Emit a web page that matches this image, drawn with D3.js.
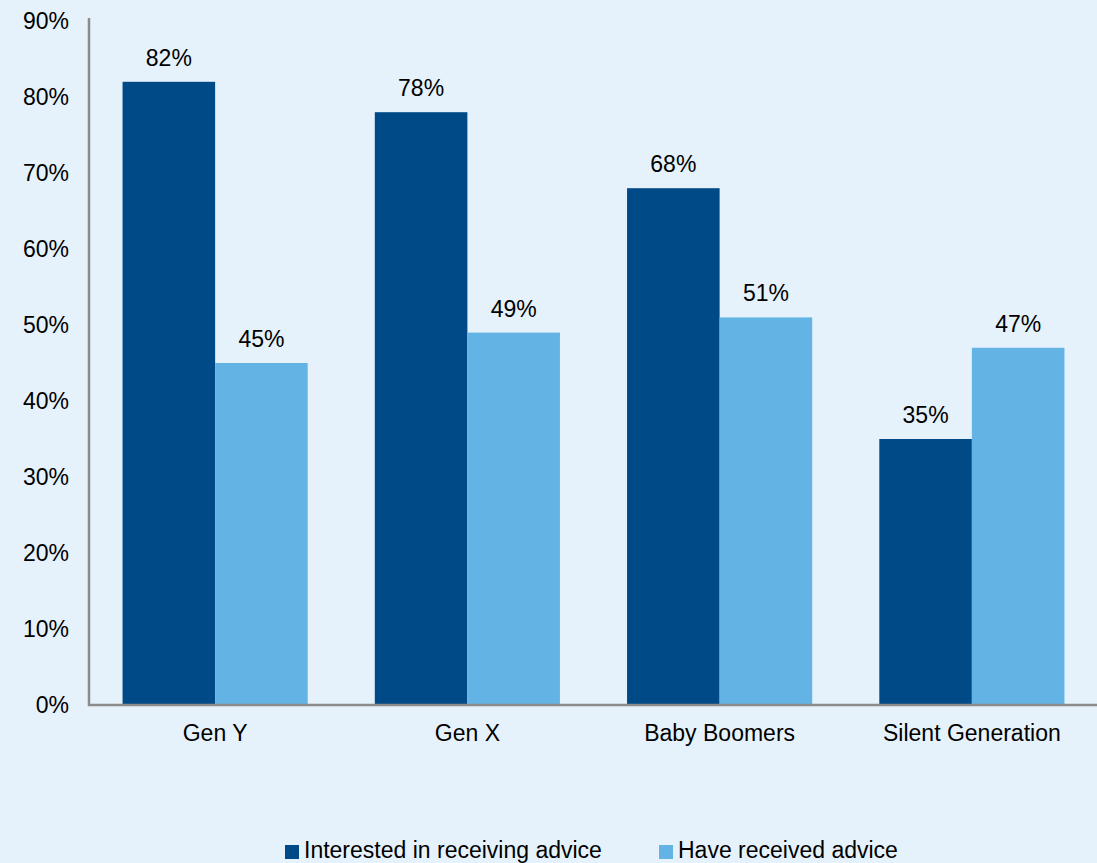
<!DOCTYPE html>
<html>
<head>
<meta charset="utf-8">
<script src="https://cdn.jsdelivr.net/npm/d3@7"></script>
<style>
  body { margin: 0; background: #e6f2fb; }
  svg { display: block; font-family: "Liberation Sans", Arial, sans-serif; }
</style>
</head>
<body>
<script>
const width = 1097;
const height = 863;
const marginTop = 21;
const marginLeft = 89;
const marginRight = 0;
const axisBottom = 705;
const fontSize = 23;

const categories = ["Gen Y", "Gen X", "Baby Boomers", "Silent Generation"];
const seriesNames = ["Interested in receiving advice", "Have received advice"];
const interested = [82, 78, 68, 35];
const received = [45, 49, 51, 47];
const yTicks = [0, 10, 20, 30, 40, 50, 60, 70, 80, 90];
const colors = ["#004a87", "#63b4e4"];

const data = categories.map((c, i) => ({ cat: c, values: [interested[i], received[i]] }));

const svg = d3
  .select("body")
  .append("svg")
  .attr("width", width)
  .attr("height", height);

svg.append("rect").attr("width", width).attr("height", height).attr("fill", "#e6f2fb");

const x = d3
  .scaleBand()
  .domain(categories)
  .range([marginLeft, width + 1 - marginRight])
  .paddingInner(0.266)
  .paddingOuter(0.133);

const x1 = d3.scaleBand().domain([0, 1]).range([0, x.bandwidth()]);

const y = d3.scaleLinear().domain([0, 90]).range([axisBottom, marginTop]);

// y tick labels
svg
  .append("g")
  .attr("font-size", fontSize)
  .attr("text-anchor", "end")
  .selectAll("text")
  .data(yTicks)
  .join("text")
  .attr("x", 69)
  .attr("y", (d) => y(d))
  .attr("dy", "0.35em")
  .attr("fill", "#000")
  .text((d) => d + "%");

// bars
const group = svg
  .append("g")
  .selectAll("g")
  .data(data)
  .join("g")
  .attr("transform", (d) => `translate(${x(d.cat)},0)`);

group
  .selectAll("rect")
  .data((d) => d.values)
  .join("rect")
  .attr("x", (d, i) => x1(i))
  .attr("y", (d) => y(d))
  .attr("width", x1.bandwidth())
  .attr("height", (d) => y(0) - y(d))
  .attr("fill", (d, i) => colors[i]);

group
  .selectAll("text")
  .data((d) => d.values)
  .join("text")
  .attr("x", (d, i) => x1(i) + x1.bandwidth() / 2)
  .attr("y", (d) => y(d) - 16)
  .attr("text-anchor", "middle")
  .attr("font-size", fontSize)
  .attr("fill", "#000")
  .text((d) => d + "%");

// axes lines
svg
  .append("line")
  .attr("x1", marginLeft)
  .attr("x2", marginLeft)
  .attr("y1", 18)
  .attr("y2", axisBottom + 1)
  .attr("stroke", "#8c8c8c")
  .attr("stroke-width", 2.5);

svg
  .append("line")
  .attr("x1", marginLeft - 1)
  .attr("x2", width)
  .attr("y1", axisBottom)
  .attr("y2", axisBottom)
  .attr("stroke", "#8c8c8c")
  .attr("stroke-width", 2.5);

// category labels
svg
  .append("g")
  .attr("font-size", fontSize)
  .attr("text-anchor", "middle")
  .selectAll("text")
  .data(categories)
  .join("text")
  .attr("x", (d) => x(d) + x.bandwidth() / 2)
  .attr("y", 741)
  .attr("fill", "#000")
  .text((d) => d);

// legend
const legendX = [285, 659];
const legend = svg
  .append("g")
  .selectAll("g")
  .data(seriesNames)
  .join("g")
  .attr("transform", (d, i) => `translate(${legendX[i]},845)`);

legend
  .append("rect")
  .attr("width", 14)
  .attr("height", 14)
  .attr("fill", (d, i) => colors[i]);

legend
  .append("text")
  .attr("x", 19)
  .attr("y", 13)
  .attr("font-size", fontSize)
  .attr("fill", "#000")
  .text((d) => d);
</script>
</body>
</html>
